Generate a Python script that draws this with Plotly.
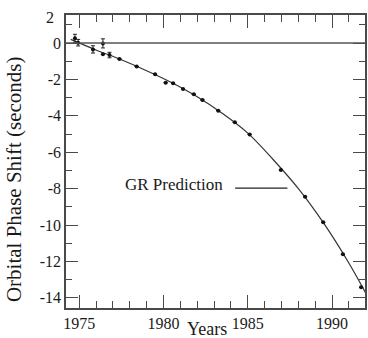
import plotly.graph_objects as go

# Timing measurements of the periastron passage
obs_year = [1974.75, 1974.94, 1975.82, 1976.41, 1976.41, 1976.80, 1977.39, 1978.41,
            1979.50, 1980.13, 1980.57, 1981.16, 1981.80, 1982.31, 1983.25, 1984.23,
            1985.11, 1986.96, 1988.40, 1989.47, 1990.64, 1991.72]
obs_shift = [0.26, 0.02, -0.35, -0.02, -0.62, -0.66, -0.88, -1.29,
             -1.71, -2.18, -2.21, -2.53, -2.82, -3.13, -3.72, -4.36,
             -5.02, -6.98, -8.45, -9.85, -11.61, -13.42]
obs_err = [0.22, 0.18, 0.2, 0.25, 0, 0.15, 0, 0,
           0, 0, 0, 0, 0, 0, 0, 0,
           0, 0, 0, 0, 0, 0]

# General-relativity prediction
gr_year = [1974.5, 1976.0, 1977.5, 1979.0, 1980.5, 1982.0, 1983.5, 1985.0,
           1986.5, 1988.0, 1989.5, 1991.0, 1992.0]
gr_shift = [0.2, -0.38, -0.92, -1.52, -2.18, -2.95, -3.87, -4.95,
            -6.4, -8.0, -9.9, -12.1, -13.75]

x_ticks = [1975, 1980, 1985, 1990]
y_ticks = [0, -2, -4, -6, -8, -10, -12, -14]
y_tick_text = ["0", "-2", "-4", "-6", "-8", "-10", "-12", "-14"]

FONT = "Liberation Serif, Times New Roman, serif"
INK = "#1a1a1a"
FRAME = "#4a4a4a"

fig = go.Figure()

fig.add_trace(go.Scatter(
    x=gr_year, y=gr_shift, mode="lines",
    line=dict(color="#333333", width=1.2, shape="spline", smoothing=1.0),
    hoverinfo="skip", showlegend=False,
))

fig.add_trace(go.Scatter(
    x=obs_year, y=obs_shift, mode="markers",
    marker=dict(color="#111111", size=4, symbol="circle"),
    error_y=dict(type="data", array=obs_err, visible=True,
                 color="#222222", thickness=1, width=2),
    showlegend=False,
))

x_range = [1974.22, 1991.95]
y_range = [-14.56, 1.54]

axis_common = dict(
    showgrid=False, zeroline=False, showline=True, linecolor=FRAME, linewidth=1.5,
    mirror="allticks", ticks="inside", tickcolor=FRAME, tickwidth=1.2,
    tickfont=dict(family=FONT, size=16, color=INK),
)

fig.update_xaxes(
    range=x_range, tickvals=x_ticks, ticklen=13,
    minor=dict(dtick=1, ticks="inside", ticklen=7, tickcolor=FRAME, tickwidth=1.2),
    **axis_common,
)
fig.update_yaxes(
    range=y_range, tickvals=y_ticks, ticktext=y_tick_text, ticklen=12,
    minor=dict(dtick=1, ticks="inside", ticklen=6, tickcolor=FRAME, tickwidth=1.2),
    **axis_common,
)

# Horizontal reference at zero phase shift
fig.add_shape(type="line", xref="paper", yref="y", x0=0, x1=1, y0=0, y1=0,
              line=dict(color="#555555", width=1.5))

# "GR Prediction" label with its pointer line
fig.add_annotation(x=1983.66, y=-7.8, xref="x", yref="y", text="GR Prediction",
                   showarrow=False, xanchor="right",
                   font=dict(family=FONT, size=17, color=INK))
fig.add_shape(type="line", xref="x", yref="y", x0=1984.25, x1=1987.35, y0=-7.97, y1=-7.97,
              line=dict(color="#222222", width=1.3))

# Top tick label of the y axis
fig.add_annotation(x=0, y=1, xref="paper", yref="paper", text="2", showarrow=False,
                   xanchor="right", yanchor="middle", xshift=-10, yshift=-2,
                   font=dict(family=FONT, size=16, color=INK))

# Axis titles
fig.add_annotation(x=0.47, y=0, xref="paper", yref="paper", text="Years", showarrow=False,
                   xanchor="center", yanchor="middle", yshift=-21,
                   font=dict(family=FONT, size=18, color=INK))
fig.add_annotation(x=0, y=0.44, xref="paper", yref="paper",
                   text="Orbital Phase Shift (seconds)", showarrow=False, textangle=-90,
                   xanchor="center", yanchor="middle", xshift=-52,
                   font=dict(family=FONT, size=21, color=INK))

fig.update_layout(
    width=368, height=338,
    margin=dict(l=66, r=1, t=15, b=30),
    paper_bgcolor="white", plot_bgcolor="white",
    showlegend=False,
)

fig.write_html("out.html")
